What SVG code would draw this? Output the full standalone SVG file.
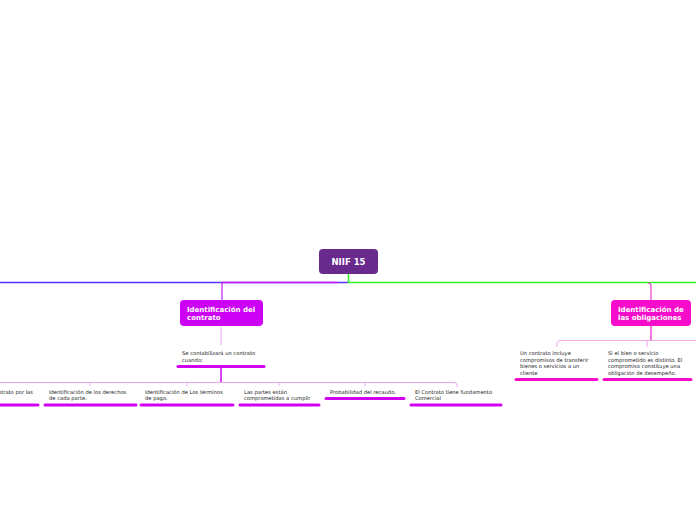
<svg xmlns="http://www.w3.org/2000/svg" width="696" height="520" viewBox="0 0 696 520">
<style>
.t{font-family:"DejaVu Sans",Verdana,sans-serif;font-size:5.2px;fill:#222}
.h{font-family:"DejaVu Sans",Verdana,sans-serif;font-size:7px;font-weight:bold;fill:#fff}
.ul{stroke-width:3;stroke-linecap:round;fill:none}
.lt{stroke:#eaa6f5;stroke-width:1;fill:none}
</style>
<rect width="696" height="520" fill="#fff"/>
<g id="connectors" fill="none">
<line x1="0" y1="282.5" x2="348" y2="282.5" stroke="#5a32ff" stroke-width="1.5"/>
<line x1="222" y1="282.5" x2="338" y2="282.5" stroke="#c21df5" stroke-width="1.5"/>
<path d="M348.5 274 V282.5 H696" stroke="#33ee22" stroke-width="1.5"/>
<line x1="222" y1="282.5" x2="222" y2="300" stroke="#c21df5" stroke-width="1.2"/>
<path d="M648 283 Q651 283 651 286 V300" stroke="#f03cd0" stroke-width="1.2"/>
<line x1="221" y1="327" x2="221" y2="345" class="lt"/>
<line x1="221" y1="367" x2="221" y2="382" stroke="#d000f0" stroke-width="1.5"/>
<path d="M0 382.5 H454 Q457 382.5 457 385.5 V387 M90 382.5 V386 M187 382.5 V386 M279 382.5 V386 M365 382.5 V386" class="lt"/>
<line x1="651" y1="326" x2="651" y2="340.5" stroke="#f01ccc" stroke-width="1.2"/>
<path d="M696 340.5 H560 Q557 340.5 557 343.5 V347 M647 340.5 V347" stroke="#f6a6ea" stroke-width="1"/>
</g>
<g id="root"><rect x="319" y="249" width="59" height="25" rx="4" fill="#692a8e"/><text x="348.5" y="265" class="h" style="font-size:8.5px" text-anchor="middle">NIIF 15</text></g>
<g id="contrato"><rect x="180" y="300" width="83" height="26" rx="4" fill="#cc00f4"/><text x="187" y="312" class="h">Identificación del</text><text x="187" y="320" class="h">contrato</text></g>
<g id="obligaciones"><rect x="611" y="300" width="80" height="26" rx="4" fill="#f80ccc"/><text x="618" y="312" class="h">Identificación de</text><text x="618" y="320" class="h">las obligaciones</text></g>
<g id="cuando"><text x="182" y="355" class="t">Se contabilizará un contrato</text><text x="182" y="361.5" class="t">cuando:</text><line x1="178" y1="366.5" x2="264" y2="366.5" class="ul" stroke="#d200f0"/></g>
<g id="aprobacion"><text x="33" y="394" class="t" text-anchor="end">Aprobación del contrato por las</text><text x="-40" y="400" class="t">partes.</text><line x1="0" y1="405" x2="38" y2="405" class="ul" stroke="#d200f0"/></g>
<g id="derechos"><text x="49" y="394" class="t">Identificación de los derechos</text><text x="49" y="400" class="t">de cada parte.</text><line x1="45" y1="405" x2="136" y2="405" class="ul" stroke="#d200f0"/></g>
<g id="terminos"><text x="145" y="394" class="t">Identificación de Los términos</text><text x="145" y="400" class="t">de pago.</text><line x1="141" y1="405" x2="233" y2="405" class="ul" stroke="#d200f0"/></g>
<g id="partes"><text x="244" y="394" class="t">Las partes están</text><text x="244" y="400" class="t">comprometidas a cumplir</text><line x1="240" y1="405" x2="319" y2="405" class="ul" stroke="#d200f0"/></g>
<g id="recaudo"><text x="330" y="394" class="t">Probabilidad del recaudo.</text><line x1="326" y1="398.5" x2="404" y2="398.5" class="ul" stroke="#d200f0"/></g>
<g id="comercial"><text x="415" y="394" class="t">El Contrato tiene fundamento</text><text x="415" y="400" class="t">Comercial</text><line x1="411" y1="405" x2="501" y2="405" class="ul" stroke="#d200f0"/></g>
<g id="incluye"><text class="t"><tspan x="520" y="355">Un contrato incluye</tspan><tspan x="520" y="361.5">compromisos de transferir</tspan><tspan x="520" y="368">bienes o servicios a un</tspan><tspan x="520" y="374.5">cliente</tspan></text><line x1="516" y1="379.5" x2="597" y2="379.5" class="ul" stroke="#f80ccc"/></g>
<g id="distinto"><text class="t"><tspan x="608" y="355">Si el bien o servicio</tspan><tspan x="608" y="361.5">comprometido es distinto. El</tspan><tspan x="608" y="368">compromiso constituye una</tspan><tspan x="608" y="374.5">obligación de desempeño.</tspan></text><line x1="604" y1="379.5" x2="691" y2="379.5" class="ul" stroke="#f80ccc"/></g>
</svg>
